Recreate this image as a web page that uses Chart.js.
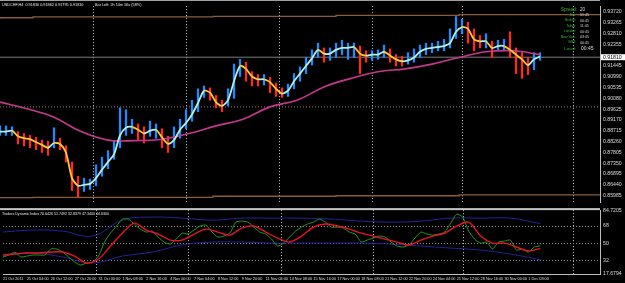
<!DOCTYPE html>
<html>
<head>
<meta charset="utf-8" />
<title>USDCHF,H4</title>
<script src="https://cdn.jsdelivr.net/npm/chart.js"></script>
<style>
  body { margin: 0; background: #000; }
  #wrap { position: relative; width: 625px; height: 283px; overflow: hidden; background: #000; }
  .pane { position: absolute; left: 0; width: 625px; }
</style>
<script>
  // price pane, one value every 2 bars (H4)
  const lineStep = 2;
  const linePrices = [
    0.8868, 0.8868, 0.8872, 0.8848, 0.8840, 0.8836, 0.8824, 0.8812, 0.8800, 0.8820,
    0.8816, 0.8780, 0.8672, 0.8640, 0.8644, 0.8648, 0.8672, 0.8708, 0.8740, 0.8772,
    0.8852, 0.8884, 0.8888, 0.8876, 0.8860, 0.8872, 0.8876, 0.8844, 0.8816, 0.8832,
    0.8876, 0.8904, 0.8940, 0.8988, 0.9040, 0.9032, 0.8992, 0.8976, 0.9000, 0.9080,
    0.9144, 0.9132, 0.9100, 0.9088, 0.9088, 0.9076, 0.9048, 0.9028, 0.9040, 0.9080,
    0.9112, 0.9144, 0.9176, 0.9212, 0.9196, 0.9196, 0.9212, 0.9220, 0.9220, 0.9224,
    0.9196, 0.9188, 0.9192, 0.9192, 0.9204, 0.9188, 0.9172, 0.9164, 0.9168, 0.9180,
    0.9204, 0.9216, 0.9220, 0.9224, 0.9228, 0.9240, 0.9288, 0.9308, 0.9300, 0.9256,
    0.9248, 0.9248, 0.9220, 0.9228, 0.9228, 0.9212, 0.9192, 0.9172, 0.9148, 0.9172,
    0.9184];
  const wickHigh = [
    0.8892, 0.8892, 0.8888, 0.8868, 0.8860, 0.8852, 0.8844, 0.8832, 0.8828, 0.8884,
    0.8840, 0.8808, 0.8740, 0.8680, 0.8672, 0.8668, 0.8728, 0.8760, 0.8788, 0.8828,
    0.8968, 0.8960, 0.8920, 0.8900, 0.8888, 0.8912, 0.8900, 0.8880, 0.8848, 0.8888,
    0.8920, 0.8960, 0.9000, 0.9048, 0.9060, 0.9052, 0.9020, 0.9000, 0.9048, 0.9152,
    0.9172, 0.9160, 0.9120, 0.9108, 0.9108, 0.9096, 0.9072, 0.9052, 0.9068, 0.9112,
    0.9140, 0.9180, 0.9212, 0.9240, 0.9220, 0.9220, 0.9240, 0.9252, 0.9240, 0.9240,
    0.9228, 0.9208, 0.9208, 0.9212, 0.9232, 0.9216, 0.9192, 0.9184, 0.9200, 0.9216,
    0.9232, 0.9240, 0.9240, 0.9248, 0.9256, 0.9300, 0.9352, 0.9340, 0.9328, 0.9300,
    0.9272, 0.9280, 0.9248, 0.9252, 0.9256, 0.9288, 0.9220, 0.9200, 0.9180, 0.9200,
    0.9200];
  const wickLow = [
    0.8852, 0.8852, 0.8852, 0.8816, 0.8808, 0.8800, 0.8792, 0.8780, 0.8768, 0.8800,
    0.8792, 0.8740, 0.8620, 0.8592, 0.8616, 0.8624, 0.8640, 0.8680, 0.8712, 0.8752,
    0.8800, 0.8852, 0.8860, 0.8832, 0.8820, 0.8848, 0.8840, 0.8800, 0.8780, 0.8800,
    0.8840, 0.8880, 0.8912, 0.8952, 0.9012, 0.9000, 0.8968, 0.8952, 0.8976, 0.9008,
    0.9100, 0.9080, 0.9060, 0.9060, 0.9064, 0.9032, 0.9016, 0.9012, 0.9016, 0.9048,
    0.9080, 0.9112, 0.9148, 0.9180, 0.9160, 0.9168, 0.9180, 0.9192, 0.9172, 0.9180,
    0.9112, 0.9160, 0.9168, 0.9172, 0.9180, 0.9160, 0.9144, 0.9144, 0.9152, 0.9160,
    0.9180, 0.9192, 0.9200, 0.9208, 0.9208, 0.9220, 0.9260, 0.9280, 0.9240, 0.9208,
    0.9220, 0.9220, 0.9180, 0.9208, 0.9208, 0.9180, 0.9112, 0.9092, 0.9108, 0.9128,
    0.9168];

  // pink moving average, every 9 bars
  const maStep = 9;
  const maPrices = [0.8992, 0.8964, 0.8928, 0.8868, 0.8832, 0.8830, 0.8836, 0.8860, 0.8892, 0.8920,
    0.8972, 0.9000, 0.9056, 0.9092, 0.9120, 0.9132, 0.9152, 0.9180, 0.9204, 0.9208, 0.9192];

  // brown high/low lines (stepped) and the dotted level
  const levelBars = [0, 11, 71, 112, 153, 173, 200];
  const levelTop = [0.9343, 0.9347, 0.9351, 0.9353, 0.9357, 0.9360, 0.9360];
  const levelBottom = [0.8587, 0.8590, 0.8591, 0.8596, 0.8598, 0.8602, 0.8602];
  const dottedLevel = 0.8972;
  const bidPrice = 0.9181;

  const priceTicks = [0.93720, 0.93265, 0.92810, 0.92355, 0.91445, 0.90990, 0.90535, 0.90080,
    0.89625, 0.89170, 0.88715, 0.88260, 0.87805, 0.87350, 0.86895, 0.86440, 0.85985];

  // Traders Dynamic Index
  const rsiStep = 2;
  const rsiValues = [
    35.5, 37.6, 40.7, 35.5, 36.5, 37.6, 37.6, 37.6, 43.9, 43.9,
    40.7, 35.5, 30.2, 27.1, 29.2, 30.2, 36.5, 51.2, 60.6, 68.0,
    75.3, 75.3, 70.1, 64.8, 61.7, 62.7, 56.4, 51.2, 49.1, 54.3,
    60.6, 59.6, 63.8, 68.0, 69.0, 61.7, 56.4, 57.5, 60.6, 72.1,
    73.2, 72.1, 66.9, 61.7, 59.6, 54.3, 47.0, 50.1, 56.4, 62.7,
    66.9, 70.1, 72.1, 75.3, 72.1, 66.9, 66.9, 65.9, 61.7, 59.6,
    51.2, 53.3, 55.4, 57.5, 56.4, 51.2, 47.0, 46.0, 48.1, 55.4,
    61.7, 59.6, 58.5, 59.6, 61.7, 71.1, 80.5, 77.4, 62.7, 54.3,
    50.1, 51.2, 43.9, 51.2, 52.2, 53.3, 42.8, 43.9, 40.7, 46.0,
    47.3];
  const signalStep = 4;
  const signalValues = [
    37.6, 38.6, 39.7, 39.7, 40.7, 40.7, 36.5, 29.2, 33.4, 47.0,
    60.6, 71.1, 63.8, 59.6, 53.3, 53.3, 59.6, 64.8, 61.7, 58.5,
    65.9, 68.0, 61.7, 55.4, 51.2, 57.5, 66.9, 70.1, 68.0, 64.8,
    60.6, 57.5, 54.3, 51.2, 48.1, 53.3, 57.5, 60.6, 68.0, 72.1,
    57.5, 50.1, 50.1, 46.0, 41.8, 44.6];
  const bandStep = 10;
  const bandUpper = [61.7, 63.8, 62.7, 57.5, 74.2, 77.4, 76.3, 74.2, 76.3, 76.3,
    76.3, 75.3, 73.2, 72.1, 73.2, 76.3, 76.3, 76.3, 70.6];
  const bandLower = [37.6, 39.7, 35.5, 29.2, 36.5, 40.7, 48.1, 51.2, 51.2, 50.1,
    50.1, 50.1, 50.1, 49.1, 47.0, 44.9, 42.8, 38.6, 32.8];
  const tdiTicks = [84.7205, 68, 50, 32, 17.6794];
  const tdiLabels = ['84.7205', '68', '50', '32', '17.6794'];
  const tdiLevels = [68, 50, 32];

  // time axis
  const gridBars = [31, 62, 93, 124, 154, 191];
  const timeBars = [0, 8, 16, 24, 32, 40, 48, 56, 64, 72, 80, 88, 96, 104, 112, 120, 128, 136, 144, 152, 160, 168, 176];
  const timeLabels = ['21 Oct 2011', '25 Oct 04:00', '26 Oct 12:00', '27 Oct 20:00', '31 Oct 00:00', '1 Nov 08:00',
    '2 Nov 16:00', '4 Nov 00:00', '7 Nov 04:00', '8 Nov 12:00', '9 Nov 20:00', '11 Nov 04:00', '14 Nov 08:00',
    '15 Nov 16:00', '17 Nov 00:00', '18 Nov 08:00', '21 Nov 12:00', '22 Nov 20:00', '24 Nov 04:00',
    '25 Nov 12:00', '28 Nov 16:00', '30 Nov 00:00', '1 Dec 08:00'];

  const symbolText = 'USDCHF,H4  0.91830 0.91862 0.91795 0.91810';
  const barLeftText = 'Bar Left: 2h 14m 56s (58%)';
  const tdiText = 'Traders Dynamic Index 70.6426 51.7492 32.8379 47.3400 44.6300';
  const clockLabels = ['Bar:', 'Broker:', 'Tokyo:', 'London:', 'New York:', 'GMT:'];
  const clockValues = ['01:45', '00:45', '11:45', '00:45', '03:45', '00:45'];
</script>
</head>
<body>
<div id="wrap">
  <div class="pane" style="top:0; height:209px"><canvas id="hind"></canvas></div>
  <div class="pane" style="top:204px; height:79px"><canvas id="alam"></canvas></div>
</div>
<script>
  const fam = 'Liberation Sans, Arial, sans-serif';
  const pts = (arr, step) => arr.map((v, i) => ({x: i * step, y: v}));

  function dotted(ctx, x1, y1, x2, y2, color) {
    ctx.save();
    ctx.strokeStyle = color;
    ctx.lineWidth = 1;
    ctx.setLineDash([1, 2]);
    ctx.beginPath();
    ctx.moveTo(x1, y1);
    ctx.lineTo(x2, y2);
    ctx.stroke();
    ctx.restore();
  }

  // dotted vertical grid + indicator levels, drawn under the data
  const gridPlugin = {
    id: 'gridlines',
    beforeDatasetsDraw(chart) {
      const {ctx, chartArea: a, scales} = chart;
      gridBars.forEach(b => {
        const x = Math.round(scales.x.getPixelForValue(b)) + 0.5;
        dotted(ctx, x, a.top, x, a.bottom, '#c8c8c8');
      });
      if (chart.canvas.id === 'alam') {
        tdiLevels.forEach(v => {
          const y = Math.round(scales.y.getPixelForValue(v)) + 0.5;
          dotted(ctx, a.left, y, a.right, y, '#8c8c8c');
        });
      }
    }
  };

  const priceTexts = {
    id: 'priceTexts',
    afterDraw(chart) {
      const {ctx, chartArea: a, scales} = chart;
      ctx.save();
      ctx.fillStyle = '#a0a0a0';
      ctx.fillRect(0, 0, a.right, 1);
      ctx.textBaseline = 'middle';
      ctx.font = '3.8px ' + fam;
      ctx.fillStyle = '#e8e8e8';
      ctx.fillText(symbolText, 2, 4.5);
      ctx.fillText(barLeftText, 95, 4.5);

      // bid label on the price scale
      const y = scales.y.getPixelForValue(bidPrice);
      ctx.fillStyle = '#ffffff';
      ctx.fillRect(a.right + 1, y - 3, 24, 6);
      ctx.fillStyle = '#000000';
      ctx.font = '5.2px ' + fam;
      ctx.fillText(bidPrice.toFixed(5), a.right + 3, y + 0.3);

      // clock box
      ctx.textAlign = 'right';
      ctx.fillStyle = '#33b833';
      ctx.font = '4.6px ' + fam;
      ctx.fillText('Spread:', 577, 10);
      ctx.font = '3.4px ' + fam;
      clockLabels.forEach((t, i) => ctx.fillText(t, 576, 15 + i * 5.5));
      ctx.font = '4.4px ' + fam;
      ctx.fillText('Local:', 576, 48.3);
      ctx.textAlign = 'left';
      ctx.fillStyle = '#d8d8d8';
      ctx.font = '4.6px ' + fam;
      ctx.fillText('20', 580, 10);
      ctx.font = '3.6px ' + fam;
      clockValues.forEach((t, i) => ctx.fillText(t, 580, 15 + i * 5.5));
      ctx.font = '5px ' + fam;
      ctx.fillText('00:45', 581, 48.3);
      ctx.restore();
    }
  };

  const tdiTexts = {
    id: 'tdiTexts',
    afterDraw(chart) {
      const {ctx, chartArea: a} = chart;
      ctx.save();
      ctx.fillStyle = '#c4c4c4';
      ctx.fillRect(0, a.top - 2, a.right, 2);
      ctx.textBaseline = 'middle';
      ctx.font = '3.6px ' + fam;
      ctx.fillStyle = '#e8e8e8';
      ctx.fillText(tdiText, 2, a.top + 3.5);
      ctx.restore();
    }
  };

  const wickColors = linePrices.map((v, i) => {
    const prev = i > 0 ? linePrices[i - 1] : v;
    return v >= prev ? '#1e8cff' : '#ff2a1a';
  });

  const xScale = {type: 'linear', min: 0, max: 200, offset: false, display: false};

  new Chart(document.getElementById('hind'), {
    type: 'line',
    data: {
      datasets: [
        {data: pts(linePrices, lineStep), borderWidth: 1.8, pointRadius: 0, tension: 0.25, order: 1,
          segment: {borderColor: c => c.p1.parsed.y >= c.p0.parsed.y ? '#b4f0e0' : '#ffc832'}},
        {data: pts(maPrices, maStep), borderColor: '#c8378f', borderWidth: 1.6, pointRadius: 0, tension: 0.4, order: 2},
        {type: 'bar', data: wickHigh.map((h, i) => ({x: i * lineStep, y: [wickLow[i], h]})),
          backgroundColor: wickColors, barThickness: 1.6, order: 3},
        {data: levelBars.map((b, i) => ({x: b, y: levelTop[i]})), stepped: 'after',
          borderColor: '#8a5c3a', borderWidth: 1.3, pointRadius: 0, order: 4},
        {data: levelBars.map((b, i) => ({x: b, y: levelBottom[i]})), stepped: 'after',
          borderColor: '#8a5c3a', borderWidth: 1.3, pointRadius: 0, order: 4},
        {data: [{x: 0, y: dottedLevel}, {x: 200, y: dottedLevel}], borderDash: [1, 2],
          borderColor: '#9a8270', borderWidth: 1, pointRadius: 0, order: 5},
        {data: [{x: 0, y: bidPrice}, {x: 200, y: bidPrice}],
          borderColor: '#7c7c7c', borderWidth: 1, pointRadius: 0, order: 6}
      ]
    },
    options: {
      responsive: true, maintainAspectRatio: false, animation: false, devicePixelRatio: 1,
      layout: {padding: {top: 1, bottom: 1, left: 0, right: 0}},
      plugins: {legend: {display: false}, tooltip: {enabled: false}},
      scales: {
        x: xScale,
        y: {
          position: 'right', min: 0.8568, max: 0.9396,
          afterFit: s => { s.width = 25; },
          afterBuildTicks: s => { s.ticks = priceTicks.map(v => ({value: v})); },
          ticks: {color: '#dcdcdc', font: {size: 5.2, family: fam}, padding: 3, autoSkip: false,
            callback: v => Number(v).toFixed(5)},
          grid: {display: false, drawTicks: false, tickLength: 0},
          border: {color: '#bdbdbd', width: 1}
        }
      }
    },
    plugins: [gridPlugin, priceTexts]
  });

  new Chart(document.getElementById('alam'), {
    type: 'line',
    data: {
      datasets: [
        {data: pts(bandUpper, bandStep), borderColor: '#23239c', borderWidth: 1, pointRadius: 0, tension: 0.4, order: 3},
        {data: pts(bandLower, bandStep), borderColor: '#23239c', borderWidth: 1, pointRadius: 0, tension: 0.4, order: 3},
        {data: pts(rsiValues, rsiStep), borderColor: '#1f9e1f', borderWidth: 1, pointRadius: 0, tension: 0.2, order: 2},
        {data: pts(signalValues, signalStep), borderColor: '#e8141e', borderWidth: 1.4, pointRadius: 0, tension: 0.3, order: 1}
      ]
    },
    options: {
      responsive: true, maintainAspectRatio: false, animation: false, devicePixelRatio: 1,
      layout: {padding: {top: 6, bottom: 0, left: 0, right: 0}},
      plugins: {legend: {display: false}, tooltip: {enabled: false}},
      scales: {
        x: {
          type: 'linear', min: 0, max: 200, offset: false,
          afterFit: s => { s.height = 9; },
          afterBuildTicks: s => { s.ticks = timeBars.map(v => ({value: v})); },
          ticks: {color: '#dcdcdc', font: {size: 3.8, family: fam}, maxRotation: 0, autoSkip: false,
            align: 'start', padding: 3, callback: (v, i) => timeLabels[i]},
          grid: {display: false, drawTicks: false, tickLength: 0},
          border: {color: '#bdbdbd', width: 1}
        },
        y: {
          position: 'right', min: 17.6794, max: 84.7205,
          afterFit: s => { s.width = 25; },
          afterBuildTicks: s => { s.ticks = tdiTicks.map(v => ({value: v})); },
          ticks: {color: '#dcdcdc', font: {size: 5.2, family: fam}, padding: 3, autoSkip: false,
            callback: (v, i) => tdiLabels[i]},
          grid: {display: false, drawTicks: false, tickLength: 0},
          border: {color: '#bdbdbd', width: 1}
        }
      }
    },
    plugins: [gridPlugin, tdiTexts]
  });
</script>
</body>
</html>
